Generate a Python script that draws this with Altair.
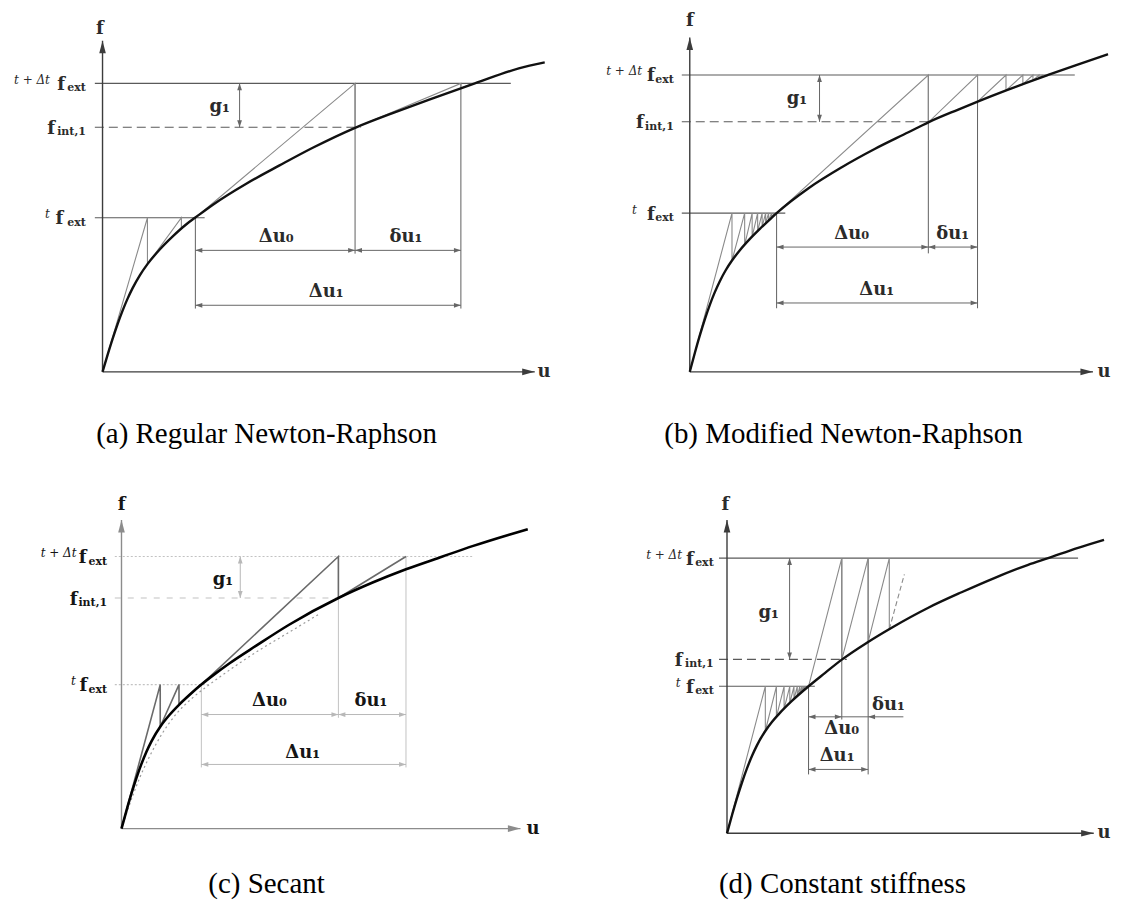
import altair as alt
import pandas as pd

MATH = "DejaVu Serif"
CAPF = "Liberation Serif"

# ---------------- shared label texts ----------------
SUP_TEXT = ["t + Δt", "t"]          # superscripts of the 1st and 3rd level labels
SUB_TEXT = ["ext", "int,1", "ext"]
GAP_LABEL = "g₁"
CAPTIONS = ["(a) Regular Newton-Raphson", "(b) Modified Newton-Raphson",
            "(c) Secant", "(d) Constant stiffness"]

# ---------------- panel (a): regular Newton-Raphson ----------------
A_DOM_U = [-94.7, 460.3]
A_DOM_F = [-86.3, 363.7]
A_CURVE_U = [0, 5, 10, 15, 20, 25, 30, 37.5, 45, 57.3, 70.6, 84, 93, 110.6, 144, 177.3, 210.6, 253, 294, 327.3, 373, 417, 443]
A_CURVE_F = [0, 16.75, 32.75, 47.6, 61.1, 73.1, 83.6, 96.9, 107.9, 122.6, 136, 147.9, 154.6, 167.5, 188.5, 206.8, 224.5, 244.5, 260.5, 272.8, 289, 304, 310]
A_PREV_U = [0, 45, 45, 79, 79, 92]
A_PREV_F = [0, 154.4, 107.9, 154.4, 143.4, 154.4]
A_STEP_U = [93, 253, 253, 359, 359, 371]
A_STEP_F = [154.4, 289, 244.5, 289, 284.1, 289]
A_LEVEL_F = [289, 245, 154.4]
A_LEVEL_END = [409, 259, 102.3]
A_LEVEL_START = -7.7
A_VERT_U = [93, 253, 359]
A_VERT_TOP = [154.4, 289, 289]
A_VERT_BOT = [63.4, 118.4, 63.4]
A_DIM_FROM = [93, 253, 93]
A_DIM_TO = [253, 359, 359]
A_DIM_F = [121.7, 121.7, 66.7]
A_DIM_HEADS = ["both", "both", "both"]
A_DIM_TEXT = ["Δu₀", "δu₁", "Δu₁"]
A_DIM_TU = [174, 304, 224]
A_DIM_TF = [135, 135, 80]
A_GAP = [137.3, 245, 289]
A_GAP_TEXT = [117.3, 265]
A_AXES = [433, 331.7]
A_FLAB = [-2.7, 343.4]
A_ULAB = [442.3, 0]
A_MAIN_END = [-37.7, -47.7, -39.4]
A_SUB_END = [-16.7, -16.7, -16.7]
A_SUP_END = [-52.7, -52.7]
A_CAPTION = [164.3, -62.3]

# ---------------- panel (b): modified Newton-Raphson ----------------
B_DOM_U = [-128, 422]
B_DOM_F = [-86.3, 363.7]
B_CURVE_U = [0, 5, 10, 15, 20, 25, 30, 36, 42.3, 50, 60, 70, 80, 87, 119, 152.3, 185.7, 219, 239, 269, 289, 315.7, 335.7, 359, 385.7, 419]
B_CURVE_F = [0, 18.6, 36.2, 52.4, 66.9, 79.6, 90.6, 101.8, 111.5, 121.6, 132.9, 143, 152.5, 159, 184, 205, 223.5, 240, 250, 262.8, 271, 281.5, 289, 297.4, 306.8, 318.3]
B_PREV_U = [0, 42.3, 42.3, 55, 55, 62.5, 62.5, 68, 68, 72.5, 72.5, 76, 76, 79, 79, 82, 82, 84.5, 84.5, 86]
B_PREV_F = [0, 159, 111.5, 159, 127.3, 159, 135.4, 159, 141, 159, 145.4, 159, 148.7, 159, 151.6, 159, 154.4, 159, 156.7, 159]
B_STEP_U = [87, 239, 239, 288.3, 288.3, 316.8, 316.8, 333.7, 333.7, 343.8, 343.8, 349.9, 349.9, 353.6]
B_STEP_F = [159, 297.4, 250, 297.4, 270.7, 297.4, 281.9, 297.4, 288.2, 297.4, 292, 297.4, 294.2, 297.4]
B_LEVEL_F = [297.4, 250.5, 159]
B_LEVEL_END = [385.7, 244, 95.7]
B_LEVEL_START = -8
B_VERT_U = [87, 239, 288.3]
B_VERT_TOP = [159, 297.4, 297.4]
B_VERT_BOT = [63.7, 118.7, 63.7]
B_DIM_FROM = [87, 239, 87]
B_DIM_TO = [239, 288.3, 288.3]
B_DIM_F = [125, 125, 69]
B_DIM_HEADS = ["both", "both", "both"]
B_DIM_TEXT = ["Δu₀", "δu₁", "Δu₁"]
B_DIM_TU = [162.3, 263.5, 187.3]
B_DIM_TF = [138.4, 138.4, 81.7]
B_GAP = [130, 250.5, 297.4]
B_GAP_TEXT = [107.3, 273.4]
B_AXES = [404, 335]
B_FLAB = [0, 351.7]
B_ULAB = [415, 0]
B_MAIN_END = [-35, -46, -35]
B_SUB_END = [-16, -16, -16]
B_SUP_END = [-47.7, -53]
B_CAPTION = [154, -62.3]

# ---------------- panel (c): secant ----------------
C_DOM_U = [-113.7, 441.3]
C_DOM_F = [-70.7, 371.3]
C_CURVE_U = [0, 5, 10, 15, 20, 25, 30, 39.3, 48, 57.6, 68, 80, 93, 108.3, 135, 168.3, 217.3, 251.6, 285, 321.6, 351.6, 388.3, 407]
C_CURVE_F = [0, 18.1, 35.2, 50.9, 64.9, 77.1, 87.5, 102.8, 113.8, 124, 133.8, 144.3, 154.5, 165.7, 183.3, 204.5, 231, 246.5, 259.8, 272.6, 283, 294.5, 300]
C_DOT_U = [0, 5, 12, 20, 30, 40, 55, 70, 85, 100, 120, 140, 160, 180, 198]
C_DOT_F = [0, 15, 35, 55, 76, 94, 115, 130, 142, 153, 167, 180, 192, 204, 215]
C_PREV_U = [0, 38.8, 38.8, 57.6, 57.6, 79]
C_PREV_F = [0, 144.3, 102.1, 144.3, 124, 144.3]
C_STEP_U = [80, 217.3, 217.3, 285]
C_STEP_F = [144.3, 272.6, 231, 272.6]
C_LEVEL_F = [272.6, 231, 144.3]
C_LEVEL_END = [351.6, 215, 88.3]
C_LEVEL_START = -6.7
C_VERT_U = [80, 217.3, 285]
C_VERT_TOP = [144.3, 272.6, 272.6]
C_VERT_BOT = [61.3, 111, 61.3]
C_DIM_FROM = [80, 217.3, 80]
C_DIM_TO = [217.3, 285, 285]
C_DIM_F = [114.3, 114.3, 64.3]
C_DIM_HEADS = ["both", "both", "both"]
C_DIM_TEXT = ["Δu₀", "δu₁", "Δu₁"]
C_DIM_TU = [148.3, 250, 181.6]
C_DIM_TF = [127.6, 127.6, 76]
C_GAP = [119, 231, 272.6]
C_GAP_TEXT = [101.6, 249.3]
C_AXES = [399.7, 309.3]
C_FLAB = [0, 324.3]
C_ULAB = [412.3, 0]
C_MAIN_END = [-35, -44, -34.4]
C_SUB_END = [-14.4, -14.4, -14.4]
C_SUP_END = [-45, -45.7]
C_CAPTION = [145.3, -55.7]

# ---------------- panel (d): constant stiffness ----------------
D_DOM_U = [-165.3, 384.7]
D_DOM_F = [-66, 376]
D_CURVE_U = [0, 5, 10, 15, 20, 25, 30, 38.4, 45, 51.7, 65, 81.7, 98, 115, 141, 165, 201.7, 235, 268.4, 301.7, 321.7, 351.7, 377.7]
D_CURVE_F = [0, 18.1, 35.2, 50.9, 65, 77.4, 88.1, 102.5, 111.5, 119.2, 132.6, 147.3, 160.5, 174, 191.5, 206, 226, 241.5, 256, 269, 275.7, 286, 294]
D_PREV_U = [0, 38.4, 38.4, 49.5, 49.5, 57.2, 57.2, 62.9, 62.9, 67.1, 67.1, 70.4, 70.4, 73, 73, 75, 75, 76.6, 76.6, 78]
D_PREV_F = [0, 147.3, 102.5, 147.3, 116.7, 147.3, 124.7, 147.3, 130.5, 147.3, 134.4, 147.3, 137.3, 147.3, 139.6, 147.3, 141.4, 147.3, 142.8, 147.3]
D_STEP_U = [81.7, 115, 115, 141.4, 141.4, 162.6, 162.6]
D_STEP_F = [147.3, 275.7, 174, 275.7, 191.8, 275.7, 204.5]
D_TAIL_U = [162.6, 177.7]
D_TAIL_F = [204.5, 259.5]
D_LEVEL_F = [275.7, 174.3, 147.3]
D_LEVEL_END = [351.7, 120, 88]
D_LEVEL_START = -8
D_VERT_U = [81.7, 115, 141.4]
D_VERT_TOP = [147.3, 275.7, 275.7]
D_VERT_BOT = [59, 114, 59]
D_DIM_FROM = [81.7, 115, 141.4, 81.7]
D_DIM_TO = [115, 141.4, 176.7, 141.4]
D_DIM_F = [116.7, 116.7, 116.7, 64]
D_DIM_HEADS = ["both", "none", "left", "both"]
D_DIM_TEXT = ["Δu₀", "δu₁", "Δu₁"]
D_DIM_TU = [115, 161.7, 110.3]
D_DIM_TF = [104, 129, 77.3]
D_GAP = [62.7, 174.3, 275.7]
D_GAP_TEXT = [41.7, 220.7]
D_AXES = [367.4, 314]
D_FLAB = [-1.6, 329]
D_ULAB = [377.7, 0]
D_MAIN_END = [-33.3, -44.5, -33.3]
D_SUB_END = [-13.3, -13.3, -13.3]
D_SUP_END = [-45, -46.6]
D_CAPTION = [115.7, -51]

# ---------------- styles ----------------
ARROW_L = "M0,0L2.2,-0.75L2.2,0.75Z"
ARROW_R = "M0,0L-2.2,-0.75L-2.2,0.75Z"
ARROW_U = "M0,0L-0.75,2.2L0.75,2.2Z"
ARROW_D = "M0,0L-0.75,-2.2L0.75,-2.2Z"
AXIS_U = "M0,0L-1,3.8L1,3.8Z"
AXIS_R = "M0,0L-3.8,-1L-3.8,1Z"

STD = dict(axis="#3c3c3c", level="#5a5a5a", level_dash=None, int_dash=[9, 5],
           vert="#5f5f5f", dim="#666666", tan="#8a8a8a", tan_w=1.1,
           curve="#111111", curve_w=2.4, text="#2b2b2b")
SEC = dict(axis="#8c8c8c", level="#c2c2c2", level_dash=[2, 2], int_dash=[6, 7],
           vert="#c2c2c2", dim="#b8b8b8", tan="#6a6a6a", tan_w=1.6,
           curve="#000000", curve_w=2.6, text="#151515")


def build(p, w, h, sty, caption):
    G = lambda k: globals()[p + "_" + k]
    xs = alt.Scale(domain=G("DOM_U"), nice=False, zero=False)
    ys = alt.Scale(domain=G("DOM_F"), nice=False, zero=False)

    def X(fld="u"):
        return alt.X(fld + ":Q", scale=xs, axis=None)

    def Y(fld="f"):
        return alt.Y(fld + ":Q", scale=ys, axis=None)

    def rule(df, **kw):
        return alt.Chart(df).mark_rule(**kw).encode(
            x=X("u"), y=Y("f"), x2=alt.X2("u2"), y2=alt.Y2("f2"))

    def heads(rows, size, color):
        df = pd.DataFrame(rows, columns=["u", "f", "s"])
        return alt.Chart(df).mark_point(filled=True, opacity=1, size=size, color=color,
                                        strokeWidth=0).encode(
            x=X(), y=Y(), shape=alt.Shape("s:N", scale=None))

    def text(df, **kw):
        return alt.Chart(df).mark_text(**kw).encode(x=X(), y=Y(), text="t:N")

    L = []
    # reference levels
    ls, lf, le = G("LEVEL_START"), G("LEVEL_F"), G("LEVEL_END")
    solid = pd.DataFrame({"u": [ls, ls], "u2": [le[0], le[2]], "f": [lf[0], lf[2]], "f2": [lf[0], lf[2]]})
    kw = dict(color=sty["level"], strokeWidth=1.1)
    if sty["level_dash"]:
        kw["strokeDash"] = sty["level_dash"]
    L.append(rule(solid, **kw))
    dash = pd.DataFrame({"u": [ls], "u2": [le[1]], "f": [lf[1]], "f2": [lf[1]]})
    L.append(rule(dash, color=sty["level"], strokeWidth=1.1, strokeDash=sty["int_dash"]))
    # extension lines
    vu = G("VERT_U")
    L.append(rule(pd.DataFrame({"u": vu, "u2": vu, "f": G("VERT_BOT"), "f2": G("VERT_TOP")}),
                  color=sty["vert"], strokeWidth=1))
    # dimension lines and gap arrow
    a, b, fv, hs = G("DIM_FROM"), G("DIM_TO"), G("DIM_F"), G("DIM_HEADS")
    L.append(rule(pd.DataFrame({"u": a, "u2": b, "f": fv, "f2": fv}), color=sty["dim"], strokeWidth=1))
    hrows = []
    for u1, u2, f, hh in zip(a, b, fv, hs):
        if hh in ("both", "left"):
            hrows.append((u1, f, ARROW_L))
        if hh in ("both", "right"):
            hrows.append((u2, f, ARROW_R))
    gu, glo, ghi = G("GAP")
    L.append(rule(pd.DataFrame({"u": [gu], "u2": [gu], "f": [glo], "f2": [ghi]}),
                  color=sty["dim"], strokeWidth=1))
    hrows += [(gu, ghi, ARROW_U), (gu, glo, ARROW_D)]
    L.append(heads(hrows, 40, sty["dim"]))
    # axes
    xt, yt = G("AXES")
    L.append(rule(pd.DataFrame({"u": [0, 0], "u2": [0, xt], "f": [0, 0], "f2": [yt, 0]}),
                  color=sty["axis"], strokeWidth=1.4))
    L.append(heads([(0, yt, AXIS_U), (xt, 0, AXIS_R)], 44, sty["axis"]))
    # iteration paths
    rows = []
    for s, (us, fs) in enumerate([(G("PREV_U"), G("PREV_F")), (G("STEP_U"), G("STEP_F"))]):
        rows += [dict(seg=s, i=i, u=u, f=f) for i, (u, f) in enumerate(zip(us, fs))]
    L.append(alt.Chart(pd.DataFrame(rows)).mark_line(color=sty["tan"], strokeWidth=sty["tan_w"]).encode(
        x=X(), y=Y(), detail="seg:N", order="i:Q"))
    if p == "C":
        L.append(alt.Chart(pd.DataFrame({"u": C_DOT_U, "f": C_DOT_F})).mark_line(
            color="#9a9a9a", strokeWidth=1.2, strokeDash=[2, 3], interpolate="monotone").encode(x=X(), y=Y()))
    if p == "D":
        L.append(rule(pd.DataFrame({"u": [D_TAIL_U[0]], "u2": [D_TAIL_U[1]],
                                    "f": [D_TAIL_F[0]], "f2": [D_TAIL_F[1]]}),
                      color=sty["tan"], strokeWidth=1.1, strokeDash=[5, 3]))
    # response curve
    L.append(alt.Chart(pd.DataFrame({"u": G("CURVE_U"), "f": G("CURVE_F")})).mark_line(
        color=sty["curve"], strokeWidth=sty["curve_w"], interpolate="monotone").encode(x=X(), y=Y()))
    # texts
    gt = G("GAP_TEXT")
    lab = pd.DataFrame({"u": G("DIM_TU") + [gt[0]], "f": G("DIM_TF") + [gt[1]],
                        "t": G("DIM_TEXT") + [GAP_LABEL]})
    L.append(text(lab, font=MATH, fontSize=18, fontWeight="bold", color=sty["text"]))
    mains = pd.DataFrame({"u": G("MAIN_END"), "f": [v - 1.5 for v in lf], "t": ["f", "f", "f"]})
    L.append(text(mains, font=MATH, fontSize=18, fontWeight="bold", align="right", color=sty["text"]))
    subs = pd.DataFrame({"u": G("SUB_END"), "f": [v - 5 for v in lf], "t": SUB_TEXT})
    L.append(text(subs, font=MATH, fontSize=11, fontWeight="bold", align="right", color=sty["text"]))
    sups = pd.DataFrame({"u": G("SUP_END"), "f": [lf[0] + 3.5, lf[2] + 3.5], "t": SUP_TEXT})
    L.append(text(sups, font=MATH, fontSize=12, fontStyle="italic", align="right", color=sty["text"]))
    fl, ul = G("FLAB"), G("ULAB")
    L.append(text(pd.DataFrame({"u": [fl[0], ul[0]], "f": [fl[1], ul[1]], "t": ["f", "u"]}),
                  font=MATH, fontSize=18, fontWeight="bold", color=sty["text"]))
    cp = G("CAPTION")
    L.append(text(pd.DataFrame({"u": [cp[0]], "f": [cp[1]], "t": [caption]}),
                  font=CAPF, fontSize=29, color="black"))
    return alt.layer(*L).properties(width=w, height=h)


A = build("A", 555, 450, STD, CAPTIONS[0])
B = build("B", 550, 450, STD, CAPTIONS[1])
C = build("C", 555, 442, SEC, CAPTIONS[2])
D = build("D", 550, 442, STD, CAPTIONS[3])

chart = alt.vconcat(
    alt.hconcat(A, B, spacing=0),
    alt.hconcat(C, D, spacing=0),
    spacing=0,
).properties(padding=0, background="white").configure_view(stroke=None)

chart.save("out.html", embed_options={"renderer": "svg", "actions": False})
